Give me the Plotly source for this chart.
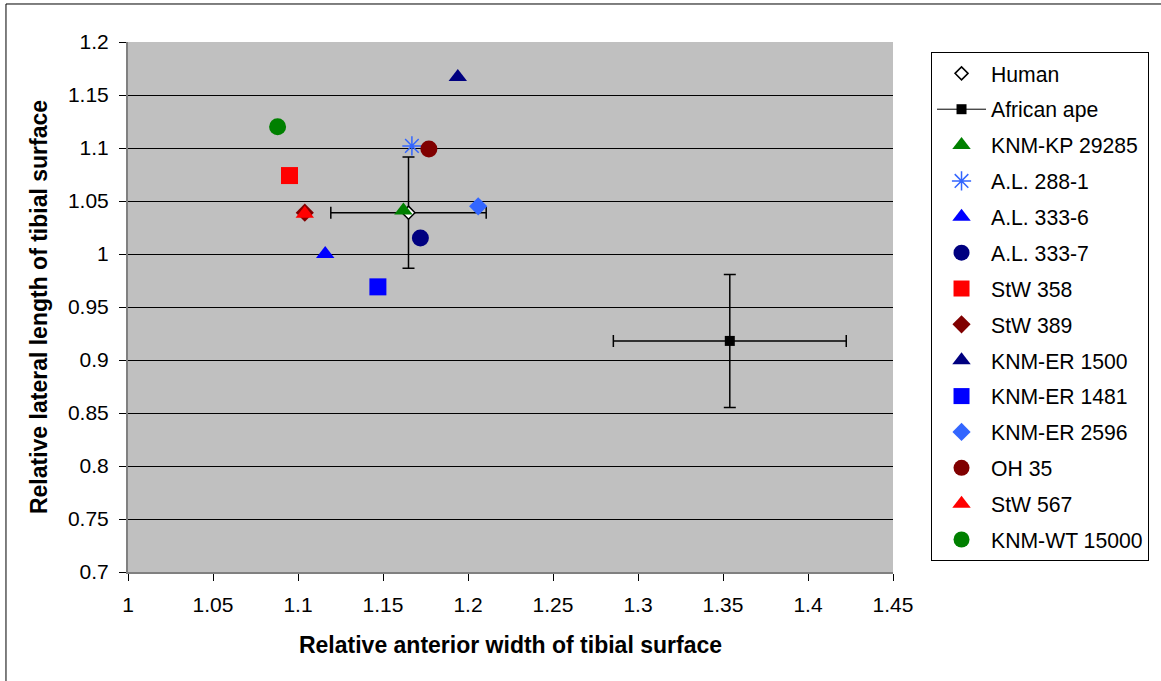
import plotly.graph_objects as go

names = ["Human", "African ape", "KNM-KP 29285", "A.L. 288-1", "A.L. 333-6", "A.L. 333-7",
         "StW 358", "StW 389", "KNM-ER 1500", "KNM-ER 1481", "KNM-ER 2596", "OH 35",
         "StW 567", "KNM-WT 15000"]
x_vals = [1.165, 1.354, 1.162, 1.167, 1.116, 1.172, 1.095, 1.104, 1.194, 1.147, 1.206, 1.177, 1.104, 1.088]
y_vals = [1.039, 0.918, 1.041, 1.102, 1.000, 1.015, 1.074, 1.039, 1.167, 0.969, 1.045, 1.099, 1.038, 1.120]
x_err = [0.0457, 0.0685, None, None, None, None, None, None, None, None, None, None, None, None]
y_err = [0.0524, 0.0627, None, None, None, None, None, None, None, None, None, None, None, None]
symbols = ["diamond", "square", "triangle-up", "asterisk-open", "triangle-up", "circle",
           "square", "diamond", "triangle-up", "square", "diamond", "circle", "triangle-up", "circle"]
colors = ["#FFFFFF", "#000000", "#008000", "#3366FF", "#0000FF", "#000080",
          "#FF0000", "#800000", "#000080", "#0000FF", "#3366FF", "#800000", "#FF0000", "#008000"]
sizes = [10, 10, 16, 16, 16, 17, 17, 14, 16, 17, 14, 17, 16, 17]

x_ticks = [1, 1.05, 1.1, 1.15, 1.2, 1.25, 1.3, 1.35, 1.4, 1.45]
y_ticks = [0.7, 0.75, 0.8, 0.85, 0.9, 0.95, 1, 1.05, 1.1, 1.15, 1.2]

FONT = "Liberation Sans, Arial, sans-serif"

fig = go.Figure()
for i, n in enumerate(names):
    marker = dict(symbol=symbols[i], size=sizes[i], color=colors[i])
    if n == "Human":
        marker["line"] = dict(color="#000000", width=1.5)
    elif symbols[i] == "asterisk-open":
        marker["line"] = dict(color=colors[i], width=1.5)
    else:
        marker["line"] = dict(width=0)
    kw = {}
    if x_err[i] is not None:
        kw["error_x"] = dict(type="data", array=[x_err[i]], color="#000000", thickness=1.5, width=6)
        kw["error_y"] = dict(type="data", array=[y_err[i]], color="#000000", thickness=1.5, width=6)
    mode = "lines+markers" if n == "African ape" else "markers"
    fig.add_trace(go.Scatter(
        x=[x_vals[i]], y=[y_vals[i]], name=n, mode=mode, marker=marker,
        line=dict(color="#000000", width=1), legendgroup=n, **kw))

fig.update_layout(
    width=1161, height=681,
    margin=dict(l=128, r=268, t=42, b=109),
    paper_bgcolor="#FFFFFF", plot_bgcolor="#C0C0C0",
    font=dict(family=FONT, size=20, color="#000000"),
    showlegend=True,
    legend=dict(x=1.0497, y=0.981, xanchor="left", yanchor="top",
                bgcolor="#FFFFFF", bordercolor="#000000", borderwidth=1,
                font=dict(family=FONT, size=21.2), tracegroupgap=5.3,
                traceorder="grouped", itemwidth=49),
    shapes=[dict(type="rect", xref="paper", yref="paper",
                 x0=-0.1595, y0=-0.2226, x1=1.362, y1=1.0717,
                 line=dict(color="#000000", width=1), layer="below")],
)
fig.update_xaxes(range=[1, 1.45], tickvals=x_ticks, ticktext=[f"{v:g}" for v in x_ticks],
                 showgrid=False, zeroline=False, showline=True, linecolor="#808080", linewidth=2,
                 ticks="outside", ticklen=7, tickcolor="#000000", tickfont=dict(size=21),
                 ticklabelstandoff=6,
                 title=dict(text="<b>Relative anterior width of tibial surface</b>",
                            font=dict(size=23), standoff=22))
fig.update_yaxes(range=[0.7, 1.2], tickvals=y_ticks, ticktext=[f"{v:g}" for v in y_ticks],
                 showgrid=True, gridcolor="#000000", gridwidth=1, zeroline=False,
                 showline=True, linecolor="#808080", linewidth=2,
                 ticks="outside", ticklen=7, tickcolor="#000000", tickfont=dict(size=21),
                 ticklabelstandoff=6,
                 title=dict(text="<b>Relative lateral length of tibial surface</b>",
                            font=dict(size=23), standoff=14))

fig.write_html("out.html")
